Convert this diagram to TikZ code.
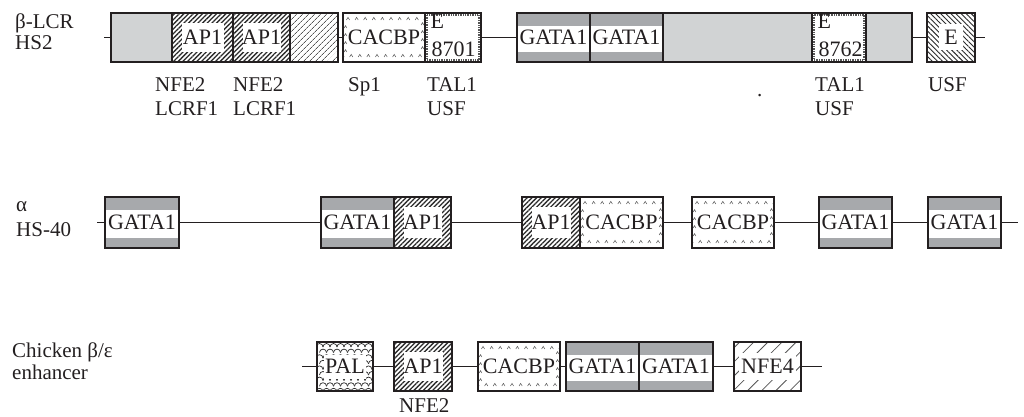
\documentclass[tikz,border=0pt]{standalone}
\usepackage{fontspec}
\setmainfont{Liberation Serif}
\usetikzlibrary{patterns.meta}
\definecolor{lgray}{HTML}{D1D3D4}
\definecolor{bgray}{HTML}{A7A9AC}
\definecolor{ink}{HTML}{231F20}
\definecolor{hatch}{HTML}{2B2B2B}
\definecolor{hatchl}{HTML}{555555}
\tikzset{
  bx/.style={draw=ink, line width=1.1pt, inner sep=0pt, rectangle, fill=white,
    font=\fontsize{22}{24}\selectfont, text=ink},
  lab/.style={inner sep=0pt, font=\fontsize{21}{24}\selectfont, text=ink, anchor=base west},
  wire/.style={draw=ink, line width=1.1pt},
  plainbox/.style={fill=lgray},
  gatabox/.style={path picture={
      \fill[bgray] (path picture bounding box.north west) rectangle ([yshift=-13pt]path picture bounding box.north east);
      \fill[bgray] ([yshift=10pt]path picture bounding box.south west) rectangle (path picture bounding box.south east);}},
  whitein/.style 2 args={path picture={
      \fill[pattern={Lines[angle=45,distance=3.3pt,line width=1.3pt]}, pattern color=hatch]
        (path picture bounding box.south west) rectangle (path picture bounding box.north east);
      \fill[white] ([shift={(#1,-#2)}]path picture bounding box.north west) rectangle ([shift={(-#1,#2)}]path picture bounding box.south east);}},
  apbox/.style={whitein={9.5pt}{10pt}},
  lhatchbox/.style={path picture={
      \fill[pattern={Lines[angle=45,distance=4pt,line width=0.7pt]}, pattern color=hatchl]
        (path picture bounding box.south west) rectangle (path picture bounding box.north east);}},
  ehatchbox/.style={path picture={
      \fill[pattern={Lines[angle=-45,distance=3.6pt,line width=0.9pt]}, pattern color=hatch]
        (path picture bounding box.south west) rectangle (path picture bounding box.north east);
      \fill[white] ([shift={(12pt,-11pt)}]path picture bounding box.north west) rectangle ([shift={(-12pt,12pt)}]path picture bounding box.south east);}},
  nfebox/.style={path picture={
      \fill[pattern={Lines[angle=45,distance=10pt,line width=0.8pt]}, pattern color=hatchl]
        (path picture bounding box.south west) rectangle (path picture bounding box.north east);
      \fill[white] ([shift={(5pt,-11pt)}]path picture bounding box.north west) rectangle ([shift={(-5pt,11pt)}]path picture bounding box.south east);}},
  edgebox/.style={path picture={
      \draw[hatchl, line width=2.4pt, dash pattern=on 1.4pt off 1pt]
        ([shift={(1.8pt,-1.8pt)}]path picture bounding box.north west) rectangle ([shift={(-1.8pt,1.8pt)}]path picture bounding box.south east);}},
  caret/.style={draw=hatchl, line width=0.5pt},
  cacbox/.style={path picture={
      \coordinate (nw) at (path picture bounding box.north west);
      \coordinate (se) at (path picture bounding box.south east);
      \foreach \i in {0,...,10}{
        \draw[caret] ([shift={({5pt+\i*8.6pt},-6pt)}]nw) ++(-1.6pt,-1pt) -- ++(1.6pt,2.6pt) -- ++(1.6pt,-2.6pt);
        \draw[caret] ([shift={({-5pt-\i*8.6pt},6pt)}]se) ++(-1.6pt,-1pt) -- ++(1.6pt,2.6pt) -- ++(1.6pt,-2.6pt);}
      \foreach \j in {1,2,3,4}{
        \draw[caret] ([shift={(2.5pt,{-6pt-\j*8pt})}]nw) ++(-1.3pt,-1pt) -- ++(1.3pt,2.4pt) -- ++(1.3pt,-2.4pt);
        \draw[caret] ([shift={(-2.5pt,{6pt+\j*8pt})}]se) ++(-1.3pt,-1pt) -- ++(1.3pt,2.4pt) -- ++(1.3pt,-2.4pt);}}},
  palbox/.style={path picture={
      \coordinate (nw) at (path picture bounding box.north west);
      \foreach \r in {0,...,8}{
        \foreach \i in {0,...,9}{
          \pgfmathsetmacro\px{\i*7-1+mod(\r,2)*3.5}
          \pgfmathsetmacro\py{-5-\r*5.6}
          \draw[draw=hatch, line width=0.7pt] ([shift={(\px pt,\py pt)}]nw) arc[start angle=180,end angle=0,radius=3.5pt];}}
      \fill[white] ([shift={(7pt,-13pt)}]path picture bounding box.north west) rectangle ([shift={(-7pt,12pt)}]path picture bounding box.south east);}},
}
\newcommand\mkbox[7]{%
  \node[bx,#1, minimum width={(#4-#3)*1pt}, minimum height={(#6-#5)*1pt}] (#2) at ({(#3+#4)/2},{(#5+#6)/2}) {#7};}
\begin{document}
\begin{tikzpicture}[x=1pt,y=-1pt]
\useasboundingbox (0,0) rectangle (1024,417);
% ---------- row 1: beta-LCR HS2
\node[lab] (l1a) at (15,29) {β-LCR};
\node[lab] (l1b) at (15,50) {HS2};
\coordinate (r1a) at (104,37.5);
\coordinate (r1b) at (985,37.5);
\mkbox{plainbox}{b1}{111}{172}{13}{62}{}
\mkbox{apbox}{b2}{172}{233}{13}{62}{AP1}
\mkbox{apbox}{b3}{233}{290}{13}{62}{AP1}
\mkbox{lhatchbox}{b4}{290}{338}{13}{62}{}
\mkbox{cacbox}{c1}{343}{425}{13}{62}{CACBP}
\mkbox{edgebox}{e1}{425}{481}{13}{62}{}
\mkbox{gatabox}{g1}{517}{590}{13}{62}{GATA1}
\mkbox{gatabox}{g2}{590}{663}{13}{62}{GATA1}
\mkbox{plainbox}{z1}{663}{812}{13}{62}{}
\mkbox{edgebox}{e2}{812}{866}{13}{62}{}
\mkbox{plainbox}{z2}{866}{912}{13}{62}{}
\mkbox{ehatchbox}{e3}{927}{975}{13}{62}{E}
\node[bx, draw=none, fill=none, anchor=base west] (e1a) at (430,29) {E};
\node[bx, draw=none, fill=none, anchor=base west] (e1b) at (431,57) {8701};
\node[bx, draw=none, fill=none, anchor=base west] (e2a) at (817,29) {E};
\node[bx, draw=none, fill=none, anchor=base west] (e2b) at (818,57) {8762};
\draw[wire] (r1a) -- (b1.west);
\draw[wire] (b4.east) -- (c1.west);
\draw[wire] (e1.east) -- (g1.west);
\draw[wire] (z2.east) -- (e3.west);
\draw[wire] (e3.east) -- (r1b);
\node[lab] (t1) at (155,92) {NFE2};
\node[lab] (t2) at (155,115) {LCRF1};
\node[lab] (t3) at (233,92) {NFE2};
\node[lab] (t4) at (233,115) {LCRF1};
\node[lab] (t5) at (348,92) {Sp1};
\node[lab] (t6) at (427,92) {TAL1};
\node[lab] (t7) at (427,115) {USF};
\node[lab] (t8) at (757,96) {.};
\node[lab] (t9) at (815,92) {TAL1};
\node[lab] (t10) at (815,115) {USF};
\node[lab] (t11) at (928,92) {USF};
% ---------- row 2: alpha HS-40
\node[lab] (l2a) at (16,211) {α};
\node[lab] (l2b) at (16,236) {HS-40};
\coordinate (r2a) at (97,222.5);
\coordinate (r2b) at (1018,222.5);
\mkbox{gatabox}{a1}{105}{179}{197}{248}{GATA1}
\mkbox{gatabox}{a2}{321}{394}{197}{248}{GATA1}
\mkbox{apbox}{a3}{394}{451}{197}{248}{AP1}
\mkbox{apbox}{a4}{522}{580}{197}{248}{AP1}
\mkbox{cacbox}{a5}{580}{663}{197}{248}{CACBP}
\mkbox{cacbox}{a6}{692}{774}{197}{248}{CACBP}
\mkbox{gatabox}{a7}{819}{892}{197}{248}{GATA1}
\mkbox{gatabox}{a8}{928}{1001}{197}{248}{GATA1}
\draw[wire] (r2a) -- (a1.west);
\draw[wire] (a1.east) -- (a2.west);
\draw[wire] (a3.east) -- (a4.west);
\draw[wire] (a5.east) -- (a6.west);
\draw[wire] (a6.east) -- (a7.west);
\draw[wire] (a7.east) -- (a8.west);
\draw[wire] (a8.east) -- (r2b);
% ---------- row 3: chicken enhancer
\node[lab] (l3a) at (12,357) {Chicken β/ε};
\node[lab] (l3b) at (12,379) {enhancer};
\coordinate (r3a) at (302,366.5);
\coordinate (r3b) at (822,366.5);
\mkbox{palbox}{p1}{317}{373}{342}{391}{PAL}
\mkbox{apbox}{p2}{394}{452}{342}{391}{AP1}
\mkbox{cacbox}{p3}{478}{560}{342}{391}{CACBP}
\mkbox{gatabox}{p4}{566}{639}{342}{391}{GATA1}
\mkbox{gatabox}{p5}{639}{713}{342}{391}{GATA1}
\mkbox{nfebox}{p6}{734}{801}{342}{391}{NFE4}
\draw[wire] (r3a) -- (p1.west);
\draw[wire] (p1.east) -- (p2.west);
\draw[wire] (p2.east) -- (p3.west);
\draw[wire] (p3.east) -- (p4.west);
\draw[wire] (p5.east) -- (p6.west);
\draw[wire] (p6.east) -- (r3b);
\node[lab] (t12) at (399,412) {NFE2};
\end{tikzpicture}
\end{document}
